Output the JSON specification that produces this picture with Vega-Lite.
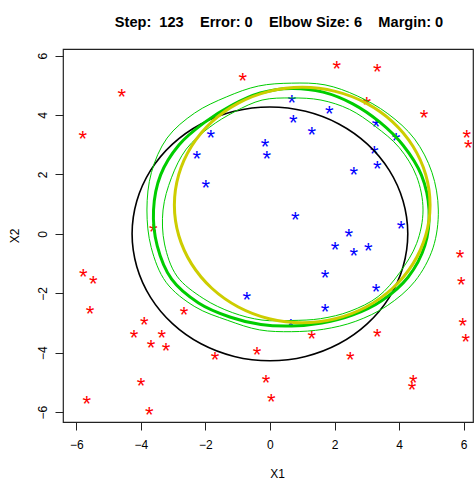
{
  "$schema": "https://vega.github.io/schema/vega-lite/v6.json",
  "width": 410,
  "height": 373,
  "autosize": {"type": "none"},
  "padding": {"left": 63, "top": 49, "right": 1, "bottom": 57},
  "background": "white",
  "config": {
    "view": {"stroke": "#222222", "strokeWidth": 1.2},
    "font": "Liberation Sans",
    "axis": {
      "grid": false,
      "domain": false,
      "tickColor": "#222222",
      "tickSize": 8,
      "tickWidth": 1,
      "labelFont": "Liberation Sans",
      "labelFontSize": 12,
      "labelColor": "black",
      "titleFont": "Liberation Sans",
      "titleFontSize": 12,
      "titleFontWeight": "normal",
      "titleColor": "black"
    }
  },
  "title": {
    "text": "Step:\u00a0\u00a0123\u00a0\u00a0\u00a0\u00a0Error: 0\u00a0\u00a0\u00a0\u00a0Elbow Size: 6\u00a0\u00a0\u00a0\u00a0Margin: 0",
    "anchor": "middle",
    "frame": "group",
    "dx": 11,
    "font": "Liberation Sans",
    "fontSize": 14.6,
    "fontWeight": "bold",
    "color": "black",
    "baseline": "alphabetic",
    "offset": 7
  },
  "datasets": {
    "pts": [
      {"cls": "blue", "x": -0.152, "y": 3.126},
      {"cls": "blue", "x": -0.099, "y": 2.712},
      {"cls": "blue", "x": -1.834, "y": 3.419},
      {"cls": "blue", "x": -2.267, "y": 2.712},
      {"cls": "blue", "x": -1.989, "y": 1.736},
      {"cls": "blue", "x": 0.675, "y": 4.616},
      {"cls": "blue", "x": 1.840, "y": 4.226},
      {"cls": "blue", "x": 0.725, "y": 3.923},
      {"cls": "blue", "x": 1.295, "y": 3.530},
      {"cls": "blue", "x": 3.287, "y": 3.799},
      {"cls": "blue", "x": 3.906, "y": 3.328},
      {"cls": "blue", "x": 3.234, "y": 2.880},
      {"cls": "blue", "x": 3.327, "y": 2.375},
      {"cls": "blue", "x": 2.596, "y": 2.184},
      {"cls": "blue", "x": 0.787, "y": 0.670},
      {"cls": "blue", "x": 4.061, "y": 0.367},
      {"cls": "blue", "x": 2.441, "y": 0.098},
      {"cls": "blue", "x": 2.017, "y": -0.340},
      {"cls": "blue", "x": 2.596, "y": -0.542},
      {"cls": "blue", "x": 3.048, "y": -0.373},
      {"cls": "blue", "x": 1.707, "y": -1.282},
      {"cls": "blue", "x": 3.287, "y": -1.753},
      {"cls": "blue", "x": 1.707, "y": -2.426},
      {"cls": "blue", "x": 0.644, "y": -2.931},
      {"cls": "blue", "x": -0.719, "y": -2.012},
      {"cls": "red", "x": -4.591, "y": 4.808},
      {"cls": "red", "x": -5.799, "y": 3.385},
      {"cls": "red", "x": -0.843, "y": 5.347},
      {"cls": "red", "x": -3.612, "y": 0.266},
      {"cls": "red", "x": 2.069, "y": 5.740},
      {"cls": "red", "x": 3.327, "y": 5.649},
      {"cls": "red", "x": 2.998, "y": 4.529},
      {"cls": "red", "x": 4.773, "y": 4.102},
      {"cls": "red", "x": 6.096, "y": 3.429},
      {"cls": "red", "x": 6.146, "y": 3.092},
      {"cls": "red", "x": -5.780, "y": -1.248},
      {"cls": "red", "x": -5.470, "y": -1.494},
      {"cls": "red", "x": -5.573, "y": -2.493},
      {"cls": "red", "x": -2.661, "y": -2.527},
      {"cls": "red", "x": -3.891, "y": -2.863},
      {"cls": "red", "x": -4.210, "y": -3.291},
      {"cls": "red", "x": -3.352, "y": -3.301},
      {"cls": "red", "x": -3.683, "y": -3.627},
      {"cls": "red", "x": -3.218, "y": -3.738},
      {"cls": "red", "x": -1.701, "y": -4.041},
      {"cls": "red", "x": -0.400, "y": -3.873},
      {"cls": "red", "x": -3.993, "y": -4.916},
      {"cls": "red", "x": -5.675, "y": -5.522},
      {"cls": "red", "x": -3.736, "y": -5.892},
      {"cls": "red", "x": -0.121, "y": -4.805},
      {"cls": "red", "x": 0.043, "y": -5.454},
      {"cls": "red", "x": 5.889, "y": -0.619},
      {"cls": "red", "x": 5.929, "y": -1.518},
      {"cls": "red", "x": 5.972, "y": -2.897},
      {"cls": "red", "x": 6.065, "y": -3.435},
      {"cls": "red", "x": 1.295, "y": -3.334},
      {"cls": "red", "x": 3.327, "y": -3.257},
      {"cls": "red", "x": 2.490, "y": -4.041},
      {"cls": "red", "x": 4.442, "y": -4.815},
      {"cls": "red", "x": 4.402, "y": -5.061}
    ],
    "curves": [
      {"c": "black", "i": 0, "x": 4.27, "y": 0},
      {"c": "black", "i": 1, "x": 4.124, "y": 1.105},
      {"c": "black", "i": 2, "x": 3.698, "y": 2.135},
      {"c": "black", "i": 3, "x": 3.019, "y": 3.019},
      {"c": "black", "i": 4, "x": 2.135, "y": 3.698},
      {"c": "black", "i": 5, "x": 1.105, "y": 4.124},
      {"c": "black", "i": 6, "x": 0, "y": 4.27},
      {"c": "black", "i": 7, "x": -1.105, "y": 4.124},
      {"c": "black", "i": 8, "x": -2.135, "y": 3.698},
      {"c": "black", "i": 9, "x": -3.019, "y": 3.019},
      {"c": "black", "i": 10, "x": -3.698, "y": 2.135},
      {"c": "black", "i": 11, "x": -4.124, "y": 1.105},
      {"c": "black", "i": 12, "x": -4.27, "y": 0},
      {"c": "black", "i": 13, "x": -4.124, "y": -1.105},
      {"c": "black", "i": 14, "x": -3.698, "y": -2.135},
      {"c": "black", "i": 15, "x": -3.019, "y": -3.019},
      {"c": "black", "i": 16, "x": -2.135, "y": -3.698},
      {"c": "black", "i": 17, "x": -1.105, "y": -4.124},
      {"c": "black", "i": 18, "x": 0, "y": -4.27},
      {"c": "black", "i": 19, "x": 1.105, "y": -4.124},
      {"c": "black", "i": 20, "x": 2.135, "y": -3.698},
      {"c": "black", "i": 21, "x": 3.019, "y": -3.019},
      {"c": "black", "i": 22, "x": 3.698, "y": -2.135},
      {"c": "black", "i": 23, "x": 4.124, "y": -1.105},
      {"c": "yellow", "i": 0, "x": 4.96, "y": 0.97},
      {"c": "yellow", "i": 1, "x": 4.825, "y": 1.995},
      {"c": "yellow", "i": 2, "x": 4.429, "y": 2.95},
      {"c": "yellow", "i": 3, "x": 3.8, "y": 3.77},
      {"c": "yellow", "i": 4, "x": 2.98, "y": 4.399},
      {"c": "yellow", "i": 5, "x": 2.025, "y": 4.795},
      {"c": "yellow", "i": 6, "x": 1.0, "y": 4.93},
      {"c": "yellow", "i": 7, "x": -0.025, "y": 4.795},
      {"c": "yellow", "i": 8, "x": -0.98, "y": 4.399},
      {"c": "yellow", "i": 9, "x": -1.8, "y": 3.77},
      {"c": "yellow", "i": 10, "x": -2.429, "y": 2.95},
      {"c": "yellow", "i": 11, "x": -2.825, "y": 1.995},
      {"c": "yellow", "i": 12, "x": -2.96, "y": 0.97},
      {"c": "yellow", "i": 13, "x": -2.825, "y": -0.055},
      {"c": "yellow", "i": 14, "x": -2.429, "y": -1.01},
      {"c": "yellow", "i": 15, "x": -1.8, "y": -1.83},
      {"c": "yellow", "i": 16, "x": -0.98, "y": -2.459},
      {"c": "yellow", "i": 17, "x": -0.025, "y": -2.855},
      {"c": "yellow", "i": 18, "x": 1.0, "y": -2.99},
      {"c": "yellow", "i": 19, "x": 2.025, "y": -2.855},
      {"c": "yellow", "i": 20, "x": 2.98, "y": -2.459},
      {"c": "yellow", "i": 21, "x": 3.8, "y": -1.83},
      {"c": "yellow", "i": 22, "x": 4.429, "y": -1.01},
      {"c": "yellow", "i": 23, "x": 4.825, "y": -0.055},
      {"c": "thick", "i": 0, "x": 4.928, "y": 0.804},
      {"c": "thick", "i": 1, "x": 4.693, "y": 1.975},
      {"c": "thick", "i": 2, "x": 4.129, "y": 2.974},
      {"c": "thick", "i": 3, "x": 3.395, "y": 3.765},
      {"c": "thick", "i": 4, "x": 2.566, "y": 4.374},
      {"c": "thick", "i": 5, "x": 1.648, "y": 4.768},
      {"c": "thick", "i": 6, "x": 0.669, "y": 4.892},
      {"c": "thick", "i": 7, "x": -0.300, "y": 4.738},
      {"c": "thick", "i": 8, "x": -1.197, "y": 4.317},
      {"c": "thick", "i": 9, "x": -2.035, "y": 3.742},
      {"c": "thick", "i": 10, "x": -2.819, "y": 2.991},
      {"c": "thick", "i": 11, "x": -3.386, "y": 1.985},
      {"c": "thick", "i": 12, "x": -3.606, "y": 0.804},
      {"c": "thick", "i": 13, "x": -3.491, "y": -0.407},
      {"c": "thick", "i": 14, "x": -3.045, "y": -1.526},
      {"c": "thick", "i": 15, "x": -2.212, "y": -2.325},
      {"c": "thick", "i": 16, "x": -1.244, "y": -2.796},
      {"c": "thick", "i": 17, "x": -0.282, "y": -3.048},
      {"c": "thick", "i": 18, "x": 0.669, "y": -3.099},
      {"c": "thick", "i": 19, "x": 1.608, "y": -2.998},
      {"c": "thick", "i": 20, "x": 2.551, "y": -2.736},
      {"c": "thick", "i": 21, "x": 3.472, "y": -2.241},
      {"c": "thick", "i": 22, "x": 4.278, "y": -1.459},
      {"c": "thick", "i": 23, "x": 4.798, "y": -0.397},
      {"c": "outer", "i": 0, "x": 5.216, "y": 0.804},
      {"c": "outer", "i": 1, "x": 5.018, "y": 2.069},
      {"c": "outer", "i": 2, "x": 4.479, "y": 3.193},
      {"c": "outer", "i": 3, "x": 3.652, "y": 4.044},
      {"c": "outer", "i": 4, "x": 2.707, "y": 4.640},
      {"c": "outer", "i": 5, "x": 1.707, "y": 5.013},
      {"c": "outer", "i": 6, "x": 0.669, "y": 5.071},
      {"c": "outer", "i": 7, "x": -0.359, "y": 4.973},
      {"c": "outer", "i": 8, "x": -1.352, "y": 4.606},
      {"c": "outer", "i": 9, "x": -2.333, "y": 4.065},
      {"c": "outer", "i": 10, "x": -3.187, "y": 3.223},
      {"c": "outer", "i": 11, "x": -3.671, "y": 2.066},
      {"c": "outer", "i": 12, "x": -3.810, "y": 0.804},
      {"c": "outer", "i": 13, "x": -3.677, "y": -0.461},
      {"c": "outer", "i": 14, "x": -3.215, "y": -1.632},
      {"c": "outer", "i": 15, "x": -2.326, "y": -2.450},
      {"c": "outer", "i": 16, "x": -1.306, "y": -2.911},
      {"c": "outer", "i": 17, "x": -0.325, "y": -3.230},
      {"c": "outer", "i": 18, "x": 0.669, "y": -3.291},
      {"c": "outer", "i": 19, "x": 1.660, "y": -3.210},
      {"c": "outer", "i": 20, "x": 2.659, "y": -2.941},
      {"c": "outer", "i": 21, "x": 3.633, "y": -2.416},
      {"c": "outer", "i": 22, "x": 4.492, "y": -1.593},
      {"c": "outer", "i": 23, "x": 5.052, "y": -0.471},
      {"c": "inner", "i": 0, "x": 4.742, "y": 0.804},
      {"c": "inner", "i": 1, "x": 4.544, "y": 1.931},
      {"c": "inner", "i": 2, "x": 4.008, "y": 2.899},
      {"c": "inner", "i": 3, "x": 3.260, "y": 3.619},
      {"c": "inner", "i": 4, "x": 2.466, "y": 4.186},
      {"c": "inner", "i": 5, "x": 1.581, "y": 4.502},
      {"c": "inner", "i": 6, "x": 0.669, "y": 4.573},
      {"c": "inner", "i": 7, "x": -0.243, "y": 4.502},
      {"c": "inner", "i": 8, "x": -1.089, "y": 4.112},
      {"c": "inner", "i": 9, "x": -1.883, "y": 3.577},
      {"c": "inner", "i": 10, "x": -2.593, "y": 2.850},
      {"c": "inner", "i": 11, "x": -3.051, "y": 1.888},
      {"c": "inner", "i": 12, "x": -3.311, "y": 0.804},
      {"c": "inner", "i": 13, "x": -3.265, "y": -0.340},
      {"c": "inner", "i": 14, "x": -2.881, "y": -1.422},
      {"c": "inner", "i": 15, "x": -2.069, "y": -2.170},
      {"c": "inner", "i": 16, "x": -1.166, "y": -2.648},
      {"c": "inner", "i": 17, "x": -0.245, "y": -2.900},
      {"c": "inner", "i": 18, "x": 0.669, "y": -2.914},
      {"c": "inner", "i": 19, "x": 1.570, "y": -2.853},
      {"c": "inner", "i": 20, "x": 2.481, "y": -2.604},
      {"c": "inner", "i": 21, "x": 3.352, "y": -2.110},
      {"c": "inner", "i": 22, "x": 4.022, "y": -1.299},
      {"c": "inner", "i": 23, "x": 4.544, "y": -0.323}
    ]
  },
  "encoding": {
    "x": {
      "field": "x",
      "type": "quantitative",
      "scale": {"domain": [-6.41, 6.29], "nice": false, "zero": false},
      "axis": {"values": [-6, -4, -2, 0, 2, 4, 6], "labelPadding": 9, "title": "X1", "titlePadding": 18, "titleX": 214}
    },
    "y": {
      "field": "y",
      "type": "quantitative",
      "scale": {"domain": [-6.33, 6.22], "nice": false, "zero": false},
      "axis": {"values": [-6, -4, -2, 0, 2, 4, 6], "labelAngle": -90, "labelAlign": "center", "labelBaseline": "bottom", "labelPadding": 6, "title": "X2", "titlePadding": 15}
    }
  },
  "layer": [
    {
      "data": {"name": "pts"},
      "mark": {"type": "text", "text": "*", "font": "Liberation Sans", "fontSize": 22, "align": "center", "baseline": "alphabetic", "dy": 13},
      "encoding": {
        "color": {"field": "cls", "type": "nominal", "scale": {"domain": ["red", "blue"], "range": ["#FF0000", "#0000FF"]}, "legend": null}
      }
    },
    {
      "data": {"name": "curves"},
      "transform": [{"filter": "datum.c === 'black'"}],
      "mark": {"type": "line", "interpolate": "cardinal-closed", "color": "black", "strokeWidth": 1.6},
      "encoding": {"order": {"field": "i", "type": "quantitative"}}
    },
    {
      "data": {"name": "curves"},
      "transform": [{"filter": "datum.c === 'outer' || datum.c === 'inner'"}],
      "mark": {"type": "line", "interpolate": "cardinal-closed", "color": "#00CD00", "strokeWidth": 1},
      "encoding": {"detail": {"field": "c", "type": "nominal"}, "order": {"field": "i", "type": "quantitative"}}
    },
    {
      "data": {"name": "curves"},
      "transform": [{"filter": "datum.c === 'thick'"}],
      "mark": {"type": "line", "interpolate": "cardinal-closed", "color": "#00CD00", "strokeWidth": 3},
      "encoding": {"order": {"field": "i", "type": "quantitative"}}
    },
    {
      "data": {"name": "curves"},
      "transform": [{"filter": "datum.c === 'yellow'"}],
      "mark": {"type": "line", "interpolate": "cardinal-closed", "color": "#CDCD00", "strokeWidth": 3},
      "encoding": {"order": {"field": "i", "type": "quantitative"}}
    }
  ]
}
